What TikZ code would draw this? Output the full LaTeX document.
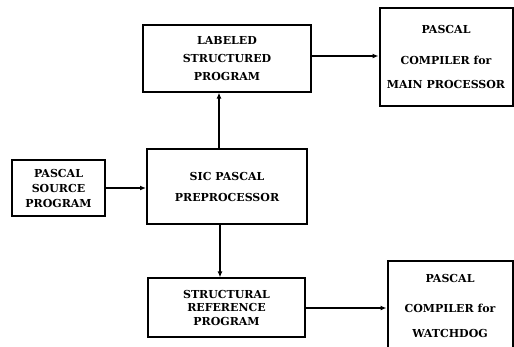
\documentclass[tikz,border=0pt]{standalone}
\usepackage{fontspec}
\setmainfont{DejaVu Serif}
\usetikzlibrary{arrows.meta}
\tikzset{
  procbox/.style={draw, line width=1.2pt, align=center, inner sep=0pt,
    font=\bfseries\fontsize{11}{13.5}\selectfont},
  heavybox/.style={procbox, line width=2pt},
  arr/.style={-{Latex[length=6pt,width=5pt]}, line width=1.8pt}
}
\begin{document}
\begin{tikzpicture}[x=1pt,y=-1pt]
  \useasboundingbox (0,0) rectangle (514,346);
  \clip (0,0) rectangle (514,346);
  % boxes
  \node[heavybox, minimum width=93pt, minimum height=56pt] (src) at (58.5,188)
    {PASCAL\\[1.5pt]SOURCE\\[1.5pt]PROGRAM};
  \node[heavybox, minimum width=160pt, minimum height=75pt] (sic) at (227,186.5)
    {SIC PASCAL\\[7.5pt]PREPROCESSOR};
  \node[procbox, minimum width=168pt, minimum height=67pt] (lab) at (227,58.5)
    {LABELED\\[5pt]STRUCTURED\\[4pt]PROGRAM};
  \node[procbox, minimum width=157pt, minimum height=59pt] (struct) at (226.5,307.5)
    {STRUCTURAL\\REFERENCE\\PROGRAM};
  \node[heavybox, minimum width=133pt, minimum height=98pt] (main) at (446,57)
    {PASCAL\\[17.5pt]COMPILER for\\[10.5pt]MAIN PROCESSOR};
  \node[heavybox, minimum width=125pt, minimum height=90pt] (wdog) at (450,306)
    {PASCAL\\[16.5pt]COMPILER for\\[11.5pt]WATCHDOG};
  % flow
  \draw[arr] (src.east) -- (src.east -| sic.west);
  \draw[arr] ([xshift=-8pt]sic.north) -- ([xshift=-8pt]sic.north |- lab.south);
  \draw[arr] ([xshift=-7pt]sic.south) -- ([xshift=-7pt]sic.south |- struct.north);
  \draw[arr] ([yshift=2.5pt]lab.east) -- ([yshift=2.5pt]lab.east -| main.west);
  \draw[arr] ([yshift=-0.5pt]struct.east) -- ([yshift=-0.5pt]struct.east -| wdog.west);
\end{tikzpicture}
\end{document}
